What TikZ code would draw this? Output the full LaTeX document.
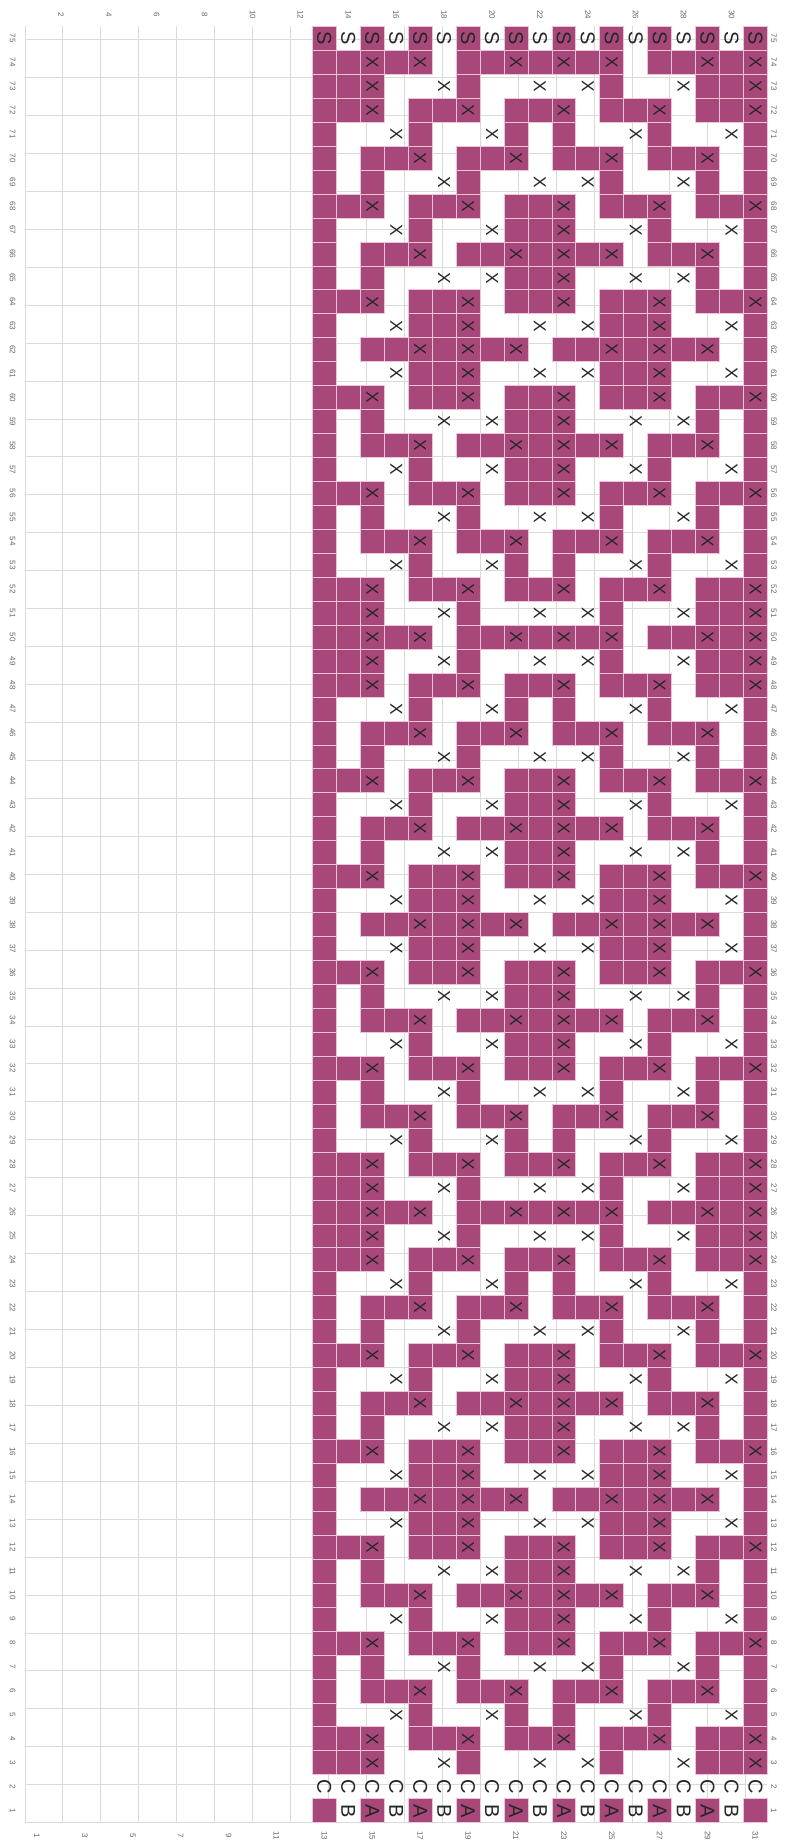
\documentclass[tikz,border=0pt]{standalone}
\usepackage{fontspec}
\setmainfont{Liberation Sans}
\definecolor{purp}{RGB}{168,72,122}
\definecolor{gridc}{RGB}{218,218,218}
\definecolor{pinkl}{RGB}{236,196,214}
\definecolor{lab}{RGB}{105,105,105}
\def\rowA{p,p,x,w,w,o,p,w,w,o,w,o,p,w,w,o,p,p,x}
\def\rowB{p,p,x,p,x,w,p,p,x,p,x,p,x,w,p,p,x,p,x}
\def\rowC{p,p,x,w,p,p,x,w,p,p,x,w,p,p,x,w,p,p,x}
\def\rowD{p,w,w,o,p,w,w,o,p,w,p,w,w,o,p,w,w,o,p}
\def\rowE{p,w,p,p,x,w,p,p,x,w,p,p,x,w,p,p,x,w,p}
\def\rowF{p,w,p,w,w,o,p,w,w,o,w,o,p,w,w,o,p,w,p}
\def\rowH{p,w,w,o,p,w,w,o,p,p,x,w,w,o,p,w,w,o,p}
\def\rowI{p,w,p,p,x,w,p,p,x,p,x,p,x,w,p,p,x,w,p}
\def\rowJ{p,w,p,w,w,o,w,o,p,p,x,w,w,o,w,o,p,w,p}
\def\rowK{p,w,w,o,p,p,x,w,w,o,w,o,p,p,x,w,w,o,p}
\def\rowL{p,w,p,p,x,p,x,p,x,w,p,p,x,p,x,p,x,w,p}
\begin{document}
\begin{tikzpicture}[x=17.9625pt,y=17.9625pt,
  cellp/.style={fill=purp,draw=pinkl,line width=0.6pt},
  xmk/.style={font=\fontsize{13}{13}\selectfont,rotate=-90,inner sep=0pt,text=black!85},
  letr/.style={font=\fontsize{15}{15}\selectfont,rotate=-90,inner sep=0pt,text=black!85},
  numl/.style={font=\fontsize{6}{6}\selectfont,rotate=-90,inner sep=0pt,text=lab}]
\useasboundingbox (-1.0438,-0.806) rectangle (32.150,76.104);
\fill[white] (-1.0438,-0.806) rectangle (32.150,76.104);
\draw[gridc,line width=0.7pt] (0,0) grid (31,75);
% pattern rows 3..74
\foreach \base in {0,24,48}{
  \foreach \o/\t in {3/A,4/C,5/D,6/E,7/F,8/C,9/H,10/I,11/J,12/C,13/K,14/L,15/K,16/C,17/J,18/I,19/H,20/C,21/F,22/E,23/D,24/C,25/A,26/B}{
    \pgfmathtruncatemacro\rr{\base+\o}
    \edef\lst{\csname row\t\endcsname}
    \foreach \c [count=\i from 13] in \lst {
      \if\c p\path[cellp] ({\i-1},{\rr-1}) rectangle (\i,\rr);\fi
      \if\c x\path[cellp] ({\i-1},{\rr-1}) rectangle (\i,\rr);
        \node[xmk] (x\i-\rr) at ({\i-0.5},{\rr-0.5}) {X};\fi
      \if\c o\node[xmk] (x\i-\rr) at ({\i-0.5},{\rr-0.5}) {X};\fi
    }
  }
}
% row 75
\foreach \c in {13,...,31}{
  \pgfmathtruncatemacro\odd{mod(\c,2)}
  \ifnum\odd=1 \path[cellp] ({\c-1},74) rectangle (\c,75);\fi
  \node[letr] (s\c) at ({\c-0.5},74.5) {S};
}
% row 2
\foreach \c in {13,...,31}{
  \node[letr] (c\c) at ({\c-0.5},1.5) {C};
}
% row 1
\foreach \c in {13,...,31}{
  \pgfmathtruncatemacro\odd{mod(\c,2)}
  \ifnum\odd=1 \path[cellp] ({\c-1},0) rectangle (\c,1);\fi
  \ifnum\c>13 \ifnum\c<31
    \ifnum\odd=1 \node[letr] (a\c) at ({\c-0.5},0.5) {A};
    \else \node[letr] (a\c) at ({\c-0.5},0.5) {B};\fi
  \fi\fi
}
% labels
\foreach \r in {1,...,75}{
  \node[numl] (ll\r) at (-0.52,{\r-0.5}) {\r};
  \node[numl] (rl\r) at (31.27,{\r-0.5}) {\r};
}
\foreach \c in {2,4,...,30} \node[numl] (tl\c) at ({\c-0.5},75.48) {\c};
\foreach \c in {1,3,...,31} \node[numl] (bl\c) at ({\c-0.5},-0.55) {\c};
\end{tikzpicture}
\end{document}
